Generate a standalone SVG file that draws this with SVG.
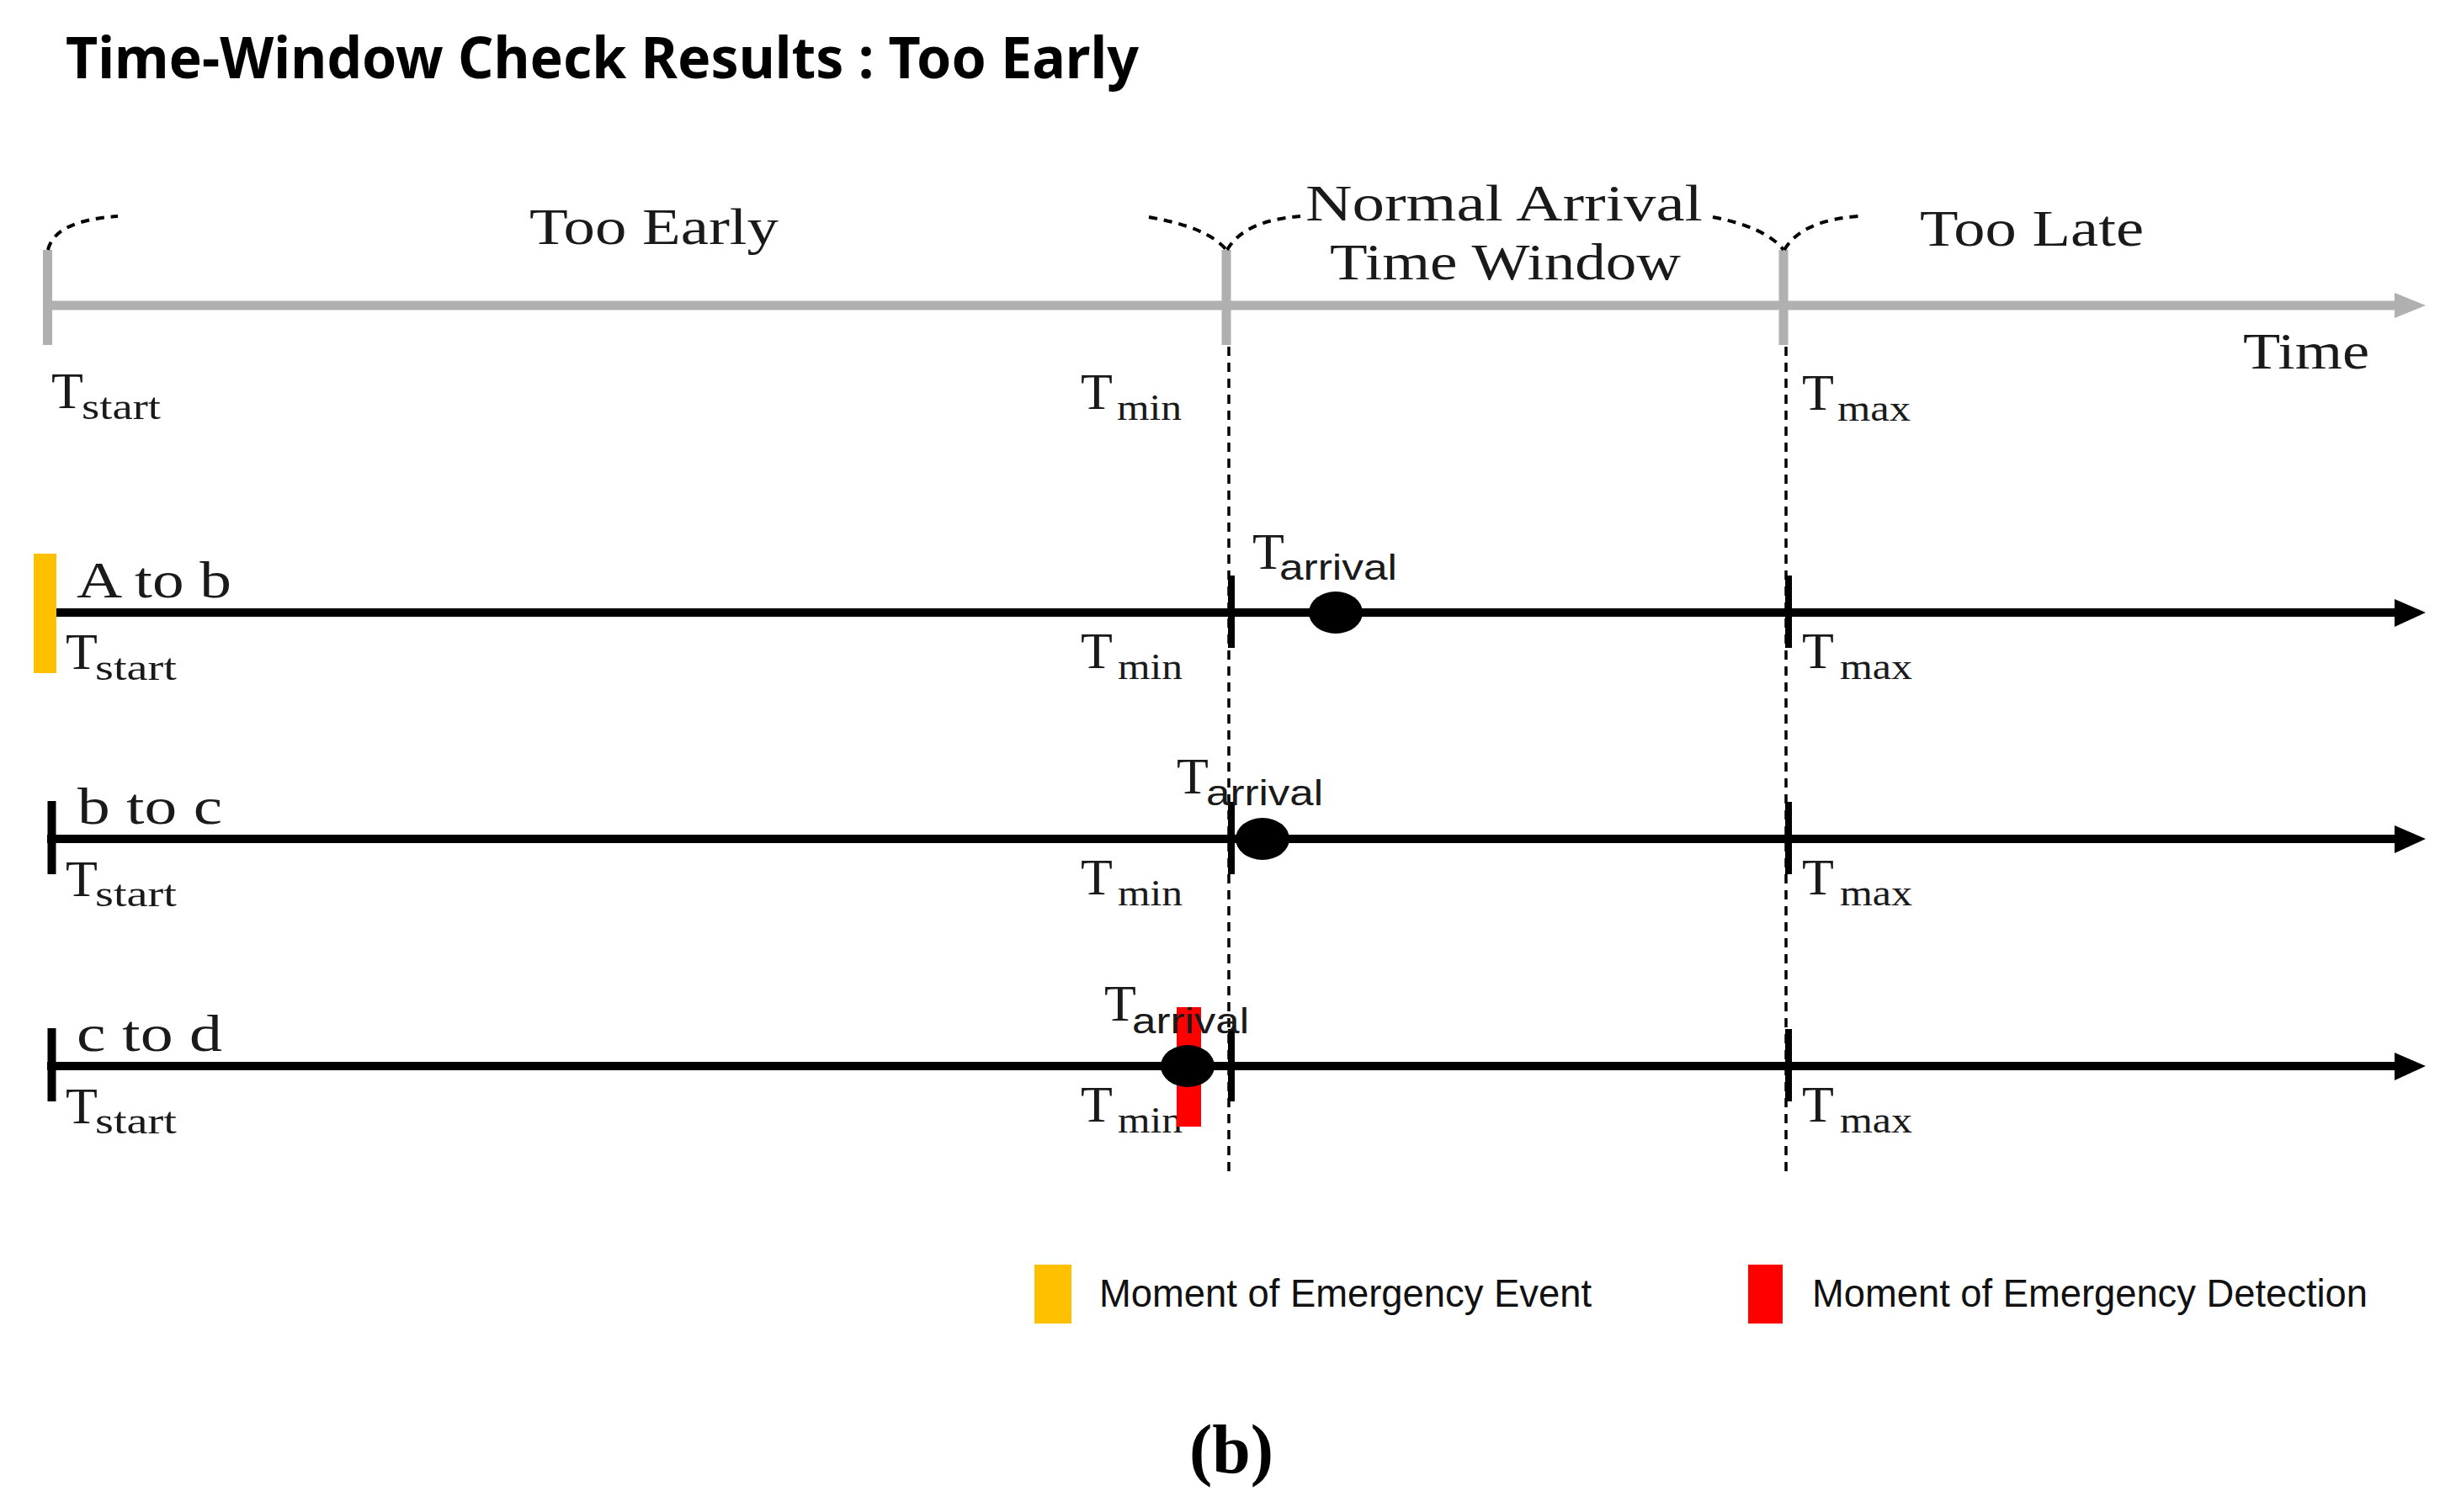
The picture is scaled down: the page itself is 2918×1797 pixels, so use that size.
<svg xmlns="http://www.w3.org/2000/svg" width="2918" height="1797" viewBox="0 0 2918 1797">
<style>
.title{font-family:"Noto Sans","Liberation Sans",sans-serif;font-weight:bold;font-size:68px;fill:#000}
.lab{font-family:"Liberation Serif",serif;font-size:62px;fill:#1a1a1a}
.sub{font-family:"Liberation Serif",serif;font-size:44px;fill:#1a1a1a}
.subs{font-family:"Liberation Sans",sans-serif;font-size:42px;fill:#1a1a1a}
.leg{font-family:"Liberation Sans",sans-serif;font-size:46px;fill:#111}
.cap{font-family:"Liberation Serif",serif;font-weight:bold;font-size:82px;fill:#000}
.gray{stroke:#b0b0b0;stroke-width:11;fill:none}
.blk{stroke:#000;stroke-width:10;fill:none}
.tick{stroke:#000;stroke-width:8;fill:none}
.arc{stroke:#000;stroke-width:4;fill:none;stroke-dasharray:10 8}
.vdash{stroke:#000;stroke-width:3.5;fill:none;stroke-dasharray:11 8}
</style>
<rect width="2918" height="1797" fill="#fff"/>
<text class="title" x="78" y="93" textLength="1275" lengthAdjust="spacingAndGlyphs">Time-Window Check Results : Too Early</text>

<g id="timeline">
<line class="gray" x1="56" y1="363" x2="2850" y2="363"/>
<polygon points="2845,348 2882,363 2845,378" fill="#b0b0b0"/>
<line class="gray" x1="56.5" y1="297" x2="56.5" y2="410"/>
<line class="gray" x1="1457" y1="297" x2="1457" y2="410"/>
<line class="gray" x1="2119" y1="297" x2="2119" y2="410"/>
<path class="arc" d="M57 297 Q65 262 140 257"/>
<path class="arc" d="M1365 258 Q1435 270 1457 297"/>
<path class="arc" d="M1458 297 Q1478 262 1545 257"/>
<path class="arc" d="M2035 258 Q2098 270 2119 297"/>
<path class="arc" d="M2120 297 Q2140 262 2208 257"/>
<text class="lab" x="629" y="290" textLength="296" lengthAdjust="spacingAndGlyphs">Too Early</text>
<text class="lab" x="1551" y="262" textLength="472" lengthAdjust="spacingAndGlyphs">Normal Arrival</text>
<text class="lab" x="1580" y="332" textLength="417" lengthAdjust="spacingAndGlyphs">Time Window</text>
<text class="lab" x="2281" y="292" textLength="266" lengthAdjust="spacingAndGlyphs">Too Late</text>
<text class="lab" x="2665" y="438" textLength="150" lengthAdjust="spacingAndGlyphs">Time</text>
<text class="lab" x="61" y="485">T</text><text class="sub" x="97" y="498" textLength="94" lengthAdjust="spacingAndGlyphs">start</text>
<text class="lab" x="1284" y="486">T</text><text class="sub" x="1327" y="499" textLength="77" lengthAdjust="spacingAndGlyphs">min</text>
<text class="lab" x="2141" y="487">T</text><text class="sub" x="2183" y="500" textLength="87" lengthAdjust="spacingAndGlyphs">max</text>
</g>

<g id="connectors">
<line class="vdash" x1="1460" y1="412" x2="1460" y2="1400"/>
<line class="vdash" x1="2122" y1="412" x2="2122" y2="1400"/>
</g>

<g id="row-a-to-b">
<line class="blk" x1="67" y1="728" x2="2850" y2="728"/>
<polygon points="2845,712 2882,728 2845,745" fill="#000"/>
<rect x="40" y="658" width="27" height="142" fill="#FFC000"/>
<line class="tick" x1="1463" y1="684" x2="1463" y2="770"/>
<line class="tick" x1="2125" y1="684" x2="2125" y2="770"/>
<ellipse cx="1587" cy="728" rx="32" ry="25" fill="#000"/>
<text class="lab" x="91" y="710" textLength="184" lengthAdjust="spacingAndGlyphs">A to b</text>
<text class="lab" x="78" y="795">T</text><text class="sub" x="113" y="808" textLength="97" lengthAdjust="spacingAndGlyphs">start</text>
<text class="lab" x="1284" y="794">T</text><text class="sub" x="1328" y="807" textLength="77" lengthAdjust="spacingAndGlyphs">min</text>
<text class="lab" x="2141" y="794">T</text><text class="sub" x="2186" y="807" textLength="86" lengthAdjust="spacingAndGlyphs">max</text>
<text class="lab" x="1488" y="676">T</text><text class="subs" x="1520" y="689" textLength="140" lengthAdjust="spacingAndGlyphs">arrival</text>
</g>

<g id="row-b-to-c">
<line class="blk" x1="56" y1="997" x2="2850" y2="997"/>
<polygon points="2845,981 2882,997 2845,1014" fill="#000"/>
<line class="blk" x1="61.5" y1="952" x2="61.5" y2="1039" stroke-width="11"/>
<line class="tick" x1="1463" y1="953" x2="1463" y2="1039"/>
<line class="tick" x1="2125" y1="953" x2="2125" y2="1039"/>
<ellipse cx="1500" cy="997" rx="32" ry="25" fill="#000"/>
<text class="lab" x="92" y="979" textLength="172" lengthAdjust="spacingAndGlyphs">b to c</text>
<text class="lab" x="78" y="1065">T</text><text class="sub" x="113" y="1077" textLength="97" lengthAdjust="spacingAndGlyphs">start</text>
<text class="lab" x="1284" y="1063">T</text><text class="sub" x="1328" y="1076" textLength="77" lengthAdjust="spacingAndGlyphs">min</text>
<text class="lab" x="2141" y="1063">T</text><text class="sub" x="2186" y="1076" textLength="86" lengthAdjust="spacingAndGlyphs">max</text>
<text class="lab" x="1398" y="943">T</text><text class="subs" x="1433" y="957" textLength="139" lengthAdjust="spacingAndGlyphs">arrival</text>
</g>

<g id="row-c-to-d">
<line class="blk" x1="56" y1="1267" x2="2850" y2="1267"/>
<polygon points="2845,1251 2882,1267 2845,1284" fill="#000"/>
<line class="blk" x1="61.5" y1="1222" x2="61.5" y2="1309" stroke-width="11"/>
<line class="tick" x1="1463" y1="1223" x2="1463" y2="1309"/>
<line class="tick" x1="2125" y1="1223" x2="2125" y2="1309"/>
<text class="lab" x="91" y="1249" textLength="173" lengthAdjust="spacingAndGlyphs">c to d</text>
<text class="lab" x="78" y="1335">T</text><text class="sub" x="113" y="1347" textLength="97" lengthAdjust="spacingAndGlyphs">start</text>
<text class="lab" x="1284" y="1333">T</text><text class="sub" x="1328" y="1346" textLength="77" lengthAdjust="spacingAndGlyphs">min</text>
<text class="lab" x="2141" y="1333">T</text><text class="sub" x="2186" y="1346" textLength="86" lengthAdjust="spacingAndGlyphs">max</text>
<rect x="1398" y="1197" width="29" height="142" fill="#FF0000"/>
<ellipse cx="1411" cy="1267" rx="32" ry="25" fill="#000"/>
<text class="lab" x="1312" y="1213">T</text><text class="subs" x="1345" y="1228" textLength="139" lengthAdjust="spacingAndGlyphs">arrival</text>
</g>

<g id="legend">
<rect x="1229" y="1503" width="44" height="70" fill="#FFC000"/>
<text class="leg" x="1306" y="1553" textLength="585" lengthAdjust="spacingAndGlyphs">Moment of Emergency Event</text>
<rect x="2077" y="1503" width="41" height="70" fill="#FF0000"/>
<text class="leg" x="2153" y="1553" textLength="660" lengthAdjust="spacingAndGlyphs">Moment of Emergency Detection</text>
</g>

<text class="cap" x="1413" y="1750" textLength="100" lengthAdjust="spacingAndGlyphs">(b)</text>
</svg>
